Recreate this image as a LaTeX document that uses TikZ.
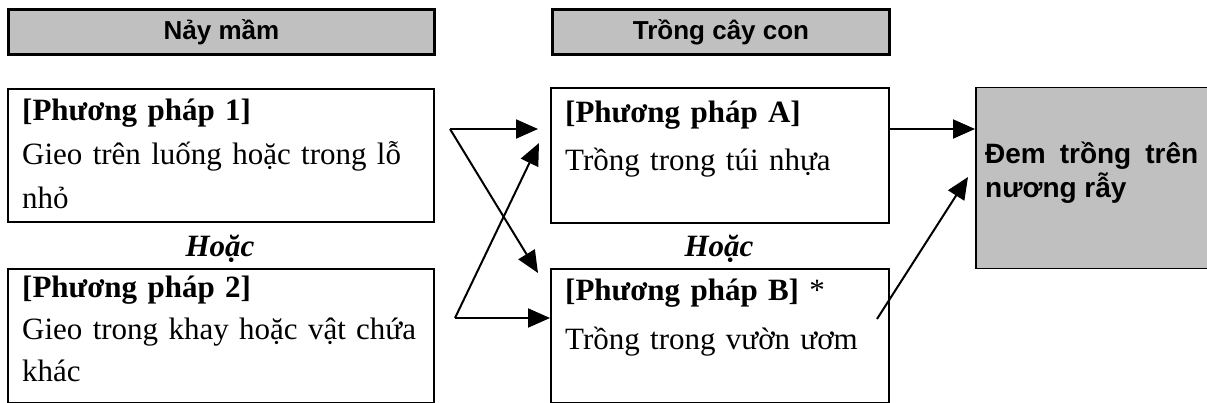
\documentclass[tikz,border=0pt]{standalone}
\usepackage{fontspec}
\setmainfont{Liberation Serif}
\setsansfont{Liberation Sans}
\usetikzlibrary{arrows.meta}

\definecolor{headColor}{RGB}{192,192,192}

\tikzset{
  header/.style={draw, line width=3pt, fill=headColor, anchor=north west, inner sep=0,
    minimum width=426, minimum height=45, font=\sffamily\bfseries\fontsize{26}{30}\selectfont},
  methodBox/.style={draw, line width=2pt, anchor=north west, inner sep=0},
  methodText/.style={anchor=base west, inner sep=0, text width=410pt, align=left,
    font=\fontsize{31}{44}\selectfont},
  wideText/.style={methodText, text width=320pt, font=\fontsize{31}{48}\selectfont},
  orText/.style={anchor=base, inner sep=0, font=\bfseries\itshape\fontsize{31}{35}\selectfont},
  arr/.style={line width=2pt, -{Triangle[length=22pt,width=19pt]}}
}

\begin{document}
\begin{tikzpicture}[x=1pt,y=-1pt]
  \useasboundingbox (0,0) rectangle (1207,403);
  % Headers
  \node[header] (sprout) at (7,8) {Nảy mầm};
  \node[header, minimum width=337] (seedling) at (551,8) {Trồng cây con};
  % Sowing
  \node[methodBox, minimum width=426, minimum height=133] (box1) at (7,88) {};
  \node[methodText] (text1) at (22,121) {\textbf{[Phương pháp 1]}\\Gieo trên luống hoặc trong lỗ\\nhỏ};
  \node[orText] (or1) at (220,257) {Hoặc};
  \node[methodBox, minimum width=426, minimum height=134] (box2) at (7,268) {};
  \node[methodText, font=\fontsize{31}{42}\selectfont] (text2) at (22,298) {\textbf{[Phương pháp 2]}\\Gieo trong khay hoặc vật chứa\\khác};
  % Seedlings
  \node[methodBox, minimum width=338, minimum height=135] (boxA) at (550,87) {};
  \node[wideText] (textA) at (565,123) {\textbf{[Phương pháp A]}\\Trồng trong túi nhựa};
  \node[orText] (or2) at (719,257) {Hoặc};
  \node[methodBox, minimum width=338, minimum height=134] (boxB) at (550,268) {};
  \node[wideText] (textB) at (565,301) {\textbf{[Phương pháp B]} *\\Trồng trong vườn ươm};
  % Field
  \node[methodBox, line width=1.5pt, fill=headColor, minimum width=260, minimum height=181] (field) at (975,87) {};
  \node[methodText, text width=213pt, align=justify, font=\sffamily\bfseries\fontsize{28}{34}\selectfont]
    (fieldText) at (985,164) {Đem trồng trên nương rẫy};
  % Arrows
  \coordinate (s1) at (450,129);
  \coordinate (s2) at (455,318);
  \coordinate (s3) at (877,319);
  \draw[arr, shorten >=12pt] (s1) -- (s1 -| boxA.west);
  \draw[arr] (s1) -- ([shift={(-12,5)}]boxB.north west);
  \draw[arr] (s2) -- (s2 -| boxB.west);
  \draw[arr] (s2) -- ([shift={(-11,56)}]boxA.north west);
  \draw[arr] (s1 -| boxA.east) -- (s1 -| field.west);
  \draw[arr] (s3) -- ([shift={(-7,90)}]field.north west);
\end{tikzpicture}
\end{document}
